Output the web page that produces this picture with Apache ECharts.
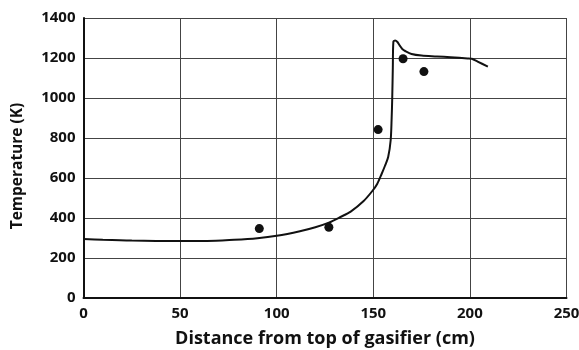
<!DOCTYPE html>
<html>
<head>
<meta charset="utf-8">
<script src="https://cdn.jsdelivr.net/npm/echarts@6/dist/echarts.min.js"></script>
<style>
  html, body { margin: 0; padding: 0; background: #fff; }
  #chart { width: 579px; height: 350px; }
</style>
</head>
<body>
<div id="chart"></div>
<script>
// model curve (distance cm, temperature K)
var modelDist = [0, 10, 25, 50, 64, 78, 90, 100, 112, 120, 127, 133, 138.3, 145, 149.5, 152, 154.3, 156, 157.7, 159, 159.5, 159.8, 160.1, 160.4, 161.3, 162.5, 163.7, 165, 166.5, 169.8, 175, 183, 190, 198.8, 201, 204, 209.3];
var modelTemp = [295, 291, 287, 285, 285, 291, 299, 311, 334, 354, 377, 405, 432, 485, 535, 570, 620, 660, 705, 790, 900, 1000, 1150, 1282, 1288, 1280, 1262, 1245, 1235, 1220, 1212, 1208, 1204, 1198, 1196, 1182, 1157];

// measured points
var measDist = [91, 127, 152.5, 165.4, 176.2];
var measTemp = [347, 354, 842, 1196, 1132];

var xTicks = [0, 50, 100, 150, 200, 250];
var yTicks = [0, 200, 400, 600, 800, 1000, 1200, 1400];

function pairs(xs, ys) {
    var out = [];
    for (var i = 0; i < xs.length; i++) out.push([xs[i], ys[i]]);
    return out;
}

var myChart = echarts.init(document.getElementById('chart'), null, { renderer: 'canvas' });

var option = {
    animation: false,
    grid: { left: 83.5, right: 12.5, top: 18, bottom: 52, outerBoundsMode: 'none', containLabel: false },
    xAxis: {
        type: 'value',
        min: xTicks[0],
        max: xTicks[xTicks.length - 1],
        interval: 50,
        name: 'Distance from top of gasifier (cm)',
        nameLocation: 'middle',
        nameGap: 32,
        nameTextStyle: { fontFamily: 'Open Sans', fontWeight: 'bold', fontSize: 18, color: '#111' },
        axisLine: { lineStyle: { color: '#111', width: 2 } },
        axisTick: { show: false },
        axisLabel: {
            fontFamily: 'Open Sans', fontWeight: 'bold', fontSize: 15, color: '#111', margin: 8,
            formatter: function (v) { return String(v); }
        },
        splitLine: { show: true, lineStyle: { color: '#444', width: 1 } }
    },
    yAxis: {
        type: 'value',
        min: yTicks[0],
        max: yTicks[yTicks.length - 1],
        interval: 200,
        name: 'Temperature (K)',
        nameLocation: 'middle',
        nameGap: 58,
        nameTextStyle: { fontFamily: 'Open Sans', fontWeight: 'bold', fontSize: 15.5, color: '#111', padding: [0, 16, 0, 0] },
        axisLine: { show: true, lineStyle: { color: '#111', width: 2 } },
        axisTick: { show: false },
        axisLabel: {
            fontFamily: 'Open Sans', fontWeight: 'bold', fontSize: 15, color: '#111', margin: 8,
            formatter: function (v) { return String(v); }
        },
        splitLine: { show: true, lineStyle: { color: '#444', width: 1 } }
    },
    series: [
        {
            name: 'model',
            type: 'line',
            data: pairs(modelDist, modelTemp),
            showSymbol: false,
            smooth: 0.3,
            lineStyle: { color: '#111', width: 2 },
            z: 3
        },
        {
            name: 'measured',
            type: 'scatter',
            data: pairs(measDist, measTemp),
            symbol: 'circle',
            symbolSize: 9,
            itemStyle: { color: '#111', opacity: 1 },
            z: 4
        }
    ]
};

myChart.setOption(option);
</script>
</body>
</html>
